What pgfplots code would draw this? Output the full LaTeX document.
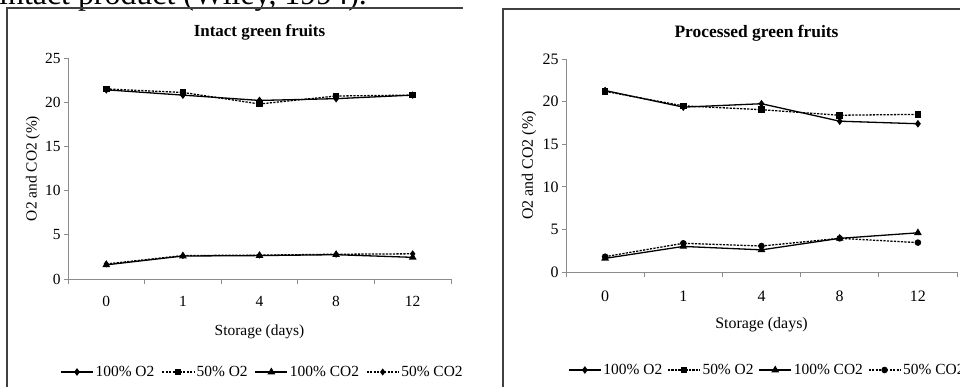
\documentclass[border=0pt]{standalone}
\usepackage{fontspec}
\setmainfont{Liberation Serif}
\usepackage{pgfplots}
\pgfplotsset{compat=1.18}
\pgfplotsset{
 fr/.style={
  scale only axis,
  clip=false,
  axis x line=bottom, axis y line=left,
  axis line style={-, black!45, line width=0.9bp},
  xmin=-0.5, xmax=4.5, ymin=0, ymax=25,
  xtick={0,...,4}, xticklabels={0,1,4,8,12},
  minor xtick={-0.5,0.5,1.5,2.5,3.5,4.5},
  ytick={0,5,...,25},
  major x tick style={draw=none},
  tick align=outside,
  major tick length=4bp, minor tick length=5bp,
  tick style={black!45, line width=0.8bp},
  ticklabel style={font=\fontsize{15.5}{15.5}\selectfont, text=black},
  xticklabel style={yshift=-10bp},
  /pgf/number format/assume math mode=true,
  label style={font=\fontsize{15.5}{15.5}\selectfont},
  title style={font=\bfseries\fontsize{17}{17}\selectfont, at={(axis description cs:0.5,1)}, anchor=center, yshift=20bp},
  ylabel={O2 and CO2 (\%)},
  xlabel={Storage (days)},
  xlabel style={at={(axis description cs:0.5,0)}, anchor=center, yshift=-53bp},
  legend columns=4,
  legend style={draw=none, fill=none, font=\fontsize{15.5}{15.5}\selectfont, inner sep=0pt,
    /tikz/every even column/.append style={column sep=5bp}},
  legend image code/.code={\draw[mark repeat=2,mark phase=2,##1] plot coordinates {(0bp,0bp) (16bp,0bp) (32bp,0bp)};},
 },
 sA/.style={black, line width=1.3bp, mark=diamond*, mark size=2.8bp},
 sB/.style={black, line width=1.3bp, dash pattern=on 2.2bp off 1.3bp, mark=square*, mark size=2.7bp, mark options={solid}},
 sC/.style={black, line width=1.3bp, mark=triangle*, mark size=3.2bp},
 sD/.style={black, line width=1.3bp, dash pattern=on 2.2bp off 1.3bp, mark=diamond*, mark size=2.5bp, mark options={solid}},
 sE/.style={black, line width=1.3bp, dash pattern=on 2.2bp off 1.3bp, mark=*, mark size=2.6bp, mark options={solid}},
}
\begin{document}
\begin{tikzpicture}
\useasboundingbox (0bp,0bp) rectangle (960bp,387bp);
\clip (0bp,0bp) rectangle (960bp,387bp);
\fill[white] (0bp,0bp) rectangle (960bp,387bp);
\node[anchor=base west, inner sep=0, font=\fontsize{32}{32}\selectfont] at (-1bp,382.5bp) {intact product (Wiley, 1994).};
\draw[line width=1.3bp, black!75] (7bp,0bp) -- (7bp,379bp) -- (463bp,379bp);
\draw[line width=1.3bp, black!75] (503bp,0bp) -- (503bp,378bp) -- (960bp,378bp);

\begin{axis}[fr, at={(68bp,108bp)}, anchor=south west, width=383bp, height=221bp,
  title={Intact green fruits},
  ylabel style={at={(axis description cs:-0.0914,0.5)}, anchor=center},
  legend style={at={(axis description cs:0.5,0)}, anchor=center, xshift=3bp, yshift=-93bp}]
\addplot[sA] coordinates {(0,21.4) (1,20.8) (2,20.2) (3,20.4) (4,20.8)};
\addplot[sB] coordinates {(0,21.5) (1,21.1) (2,19.8) (3,20.7) (4,20.8)};
\addplot[sC] coordinates {(0,1.6) (1,2.6) (2,2.65) (3,2.75) (4,2.45)};
\addplot[sD] coordinates {(0,1.7) (1,2.65) (2,2.7) (3,2.8) (4,2.85)};
\legend{100\% O2, 50\% O2, 100\% CO2, 50\% CO2}
\end{axis}

\begin{axis}[fr, at={(566bp,115bp)}, anchor=south west, width=391bp, height=213bp,
  title={Processed green fruits},
  title style={xshift=-5bp, font=\bfseries\fontsize{17.5}{17.5}\selectfont},
  ticklabel style={font=\fontsize{16}{16}\selectfont},
  xticklabel style={yshift=-1bp},
  label style={font=\fontsize{16}{16}\selectfont},
  ylabel style={at={(axis description cs:-0.0946,0.5)}, anchor=center},
  legend style={at={(axis description cs:0,0)}, anchor=west, xshift=2bp, yshift=-98bp, font=\fontsize{15.5}{15.5}\selectfont,
    /tikz/every even column/.append style={column sep=3bp}}]
\addplot[sA] coordinates {(0,21.3) (1,19.35) (2,19.75) (3,17.7) (4,17.4)};
\addplot[sB] coordinates {(0,21.2) (1,19.5) (2,19.05) (3,18.4) (4,18.5)};
\addplot[sC] coordinates {(0,1.6) (1,3.0) (2,2.6) (3,3.95) (4,4.6)};
\addplot[sE] coordinates {(0,1.8) (1,3.37) (2,3.05) (3,3.95) (4,3.45)};
\legend{100\% O2, 50\% O2, 100\% CO2, 50\% CO2}
\end{axis}
\end{tikzpicture}
\end{document}
